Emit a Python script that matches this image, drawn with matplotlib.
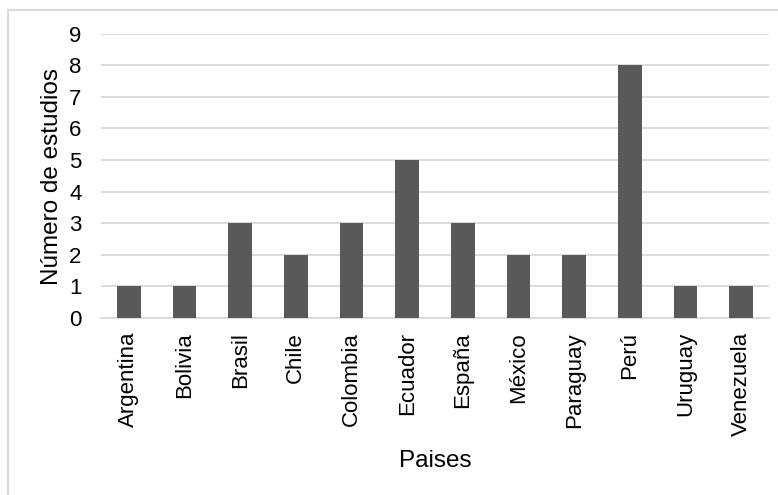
import matplotlib
matplotlib.use("Agg")
import matplotlib.pyplot as plt
from matplotlib.patches import Rectangle

paises = ["Argentina", "Bolivia", "Brasil", "Chile", "Colombia", "Ecuador",
          "España", "México", "Paraguay", "Perú", "Uruguay", "Venezuela"]
estudios = [1, 1, 3, 2, 3, 5, 3, 2, 2, 8, 1, 1]
yticks = list(range(0, 10))

plt.rcParams['font.family'] = ['Liberation Sans', 'DejaVu Sans']

W, H = 778, 495
fig = plt.figure(figsize=(W/100, H/100), dpi=100)
ax = fig.add_axes([101/W, 1 - 318/H, (769-101)/W, (318-33.5)/H])

x = list(range(len(paises)))
ax.bar(x, estudios, width=0.42, color="#595959", zorder=3)
ax.set_xlim(-0.5, len(paises) - 0.5)
ax.set_ylim(0, 9)
ax.set_yticks(yticks)
ax.set_xticks(x)
ax.set_xticklabels(paises, rotation=90, fontsize=16, color="#000000")
ax.tick_params(axis='y', labelsize=16, length=0, pad=14)
ax.tick_params(axis='x', length=0, pad=10)
ax.grid(axis='y', color="#d9d9d9", linewidth=1.3, zorder=0)
for s in ["top", "right", "left"]:
    ax.spines[s].set_visible(False)
ax.spines["bottom"].set_color("#d9d9d9")
ax.spines["bottom"].set_linewidth(1.3)

fig.text(52/W, 1 - 176/H, "Número de estudios", fontsize=17.5, rotation=90,
         ha="center", va="center")
fig.text(435/W, 1 - 461/H, "Paises", fontsize=17.5, ha="center", va="center")

fig.patches.append(Rectangle((8/W, -0.2), 1.2, 1.2 - 10/H, transform=fig.transFigure,
                             fill=False, edgecolor="#d9d9d9", linewidth=1.5))

fig.savefig("out.png", dpi=100)
